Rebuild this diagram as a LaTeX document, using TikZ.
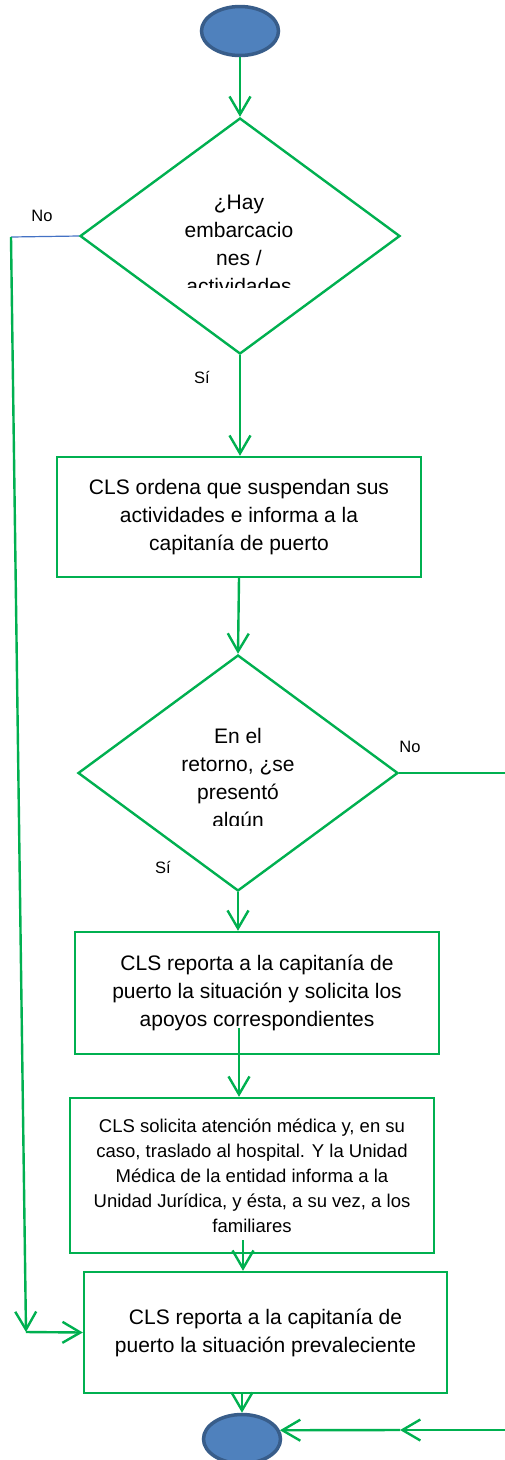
\documentclass[tikz,border=0pt]{standalone}
\usepackage{fontspec}
\setmainfont{Liberation Sans}
\usetikzlibrary{shapes.geometric, arrows.meta}
\definecolor{flowgreen}{HTML}{00B050}
\definecolor{termfill}{HTML}{4F81BD}
\definecolor{termline}{HTML}{385D8A}
\definecolor{noblue}{HTML}{4472C4}

\begin{document}
\begin{tikzpicture}[x=1pt, y=-1pt,
  term/.style = {ellipse, fill=termfill, draw=termline, line width=3.5pt,
                 minimum width=77pt, minimum height=49pt, inner sep=0pt},
  decision/.style = {diamond, draw=flowgreen, line width=2.4pt,
                     minimum width=320pt, minimum height=236pt, inner sep=0pt},
  qtext/.style = {align=center, inner sep=0pt, font=\fontsize{21}{28}\selectfont},
  procbox/.style = {rectangle, draw=flowgreen, line width=2.4pt, align=center,
                    inner sep=0pt, font=\fontsize{21}{28}\selectfont},
  label/.style = {inner sep=0pt, font=\fontsize{16.5}{20}\selectfont},
  flow/.style = {draw=flowgreen, line width=2.4pt},
  arr/.style = {flow, -{Straight Barb[length=18pt, width=21pt]}}]
\useasboundingbox (0,0) rectangle (504,1460);

\node[term] (start) at (240,31) {};
\node[decision] (q1) at (240,236) {};
\begin{scope}
\clip (0,0) rectangle (504,287);
\node[qtext] (q1t) at (239,244) {¿Hay\\embarcacio\\nes /\\actividades};
\end{scope}
\node[procbox, minimum width=364pt, minimum height=120pt] (b1) at (239,517)
  {CLS ordena que suspendan sus\\actividades e informa a la\\capitanía de puerto};
\node[decision] (q2) at (238,773) {};
\begin{scope}
\clip (0,600) rectangle (504,825);
\node[qtext] (q2t) at (238,780) {En el\\retorno, ¿se\\presentó\\algún};
\end{scope}
\node[procbox, minimum width=364pt, minimum height=122pt] (b2) at (257,993)
  {CLS reporta a la capitanía de\\puerto la situación y solicita los\\apoyos correspondientes};
\node[procbox, minimum width=364pt, minimum height=155pt,
      font=\fontsize{18.5}{25}\selectfont] (b4) at (252,1175.5)
  {CLS solicita atención médica y, en su\\caso, traslado al hospital. Y la Unidad\\Médica de la entidad informa a la\\Unidad Jurídica, y ésta, a su vez, a los\\familiares};
\node[procbox, minimum width=363pt, minimum height=121pt] (b6) at (265.5,1332.5)
  {CLS reporta a la capitanía de\\puerto la situación prevaleciente};
\node[term] (end) at (242,1439) {};

\node[label] (no1) at (42,216) {No};
\node[label] (si1) at (202,377) {Sí};
\node[label] (no2) at (410,747) {No};
\node[label] (si2) at (163,867) {Sí};

\coordinate (nw) at (11,237);
\coordinate (sw) at (26,1332);
\coordinate (ne) at (506,770);
\coordinate (b2o) at (239,1028);
\coordinate (b4o) at (243,1240);
\coordinate (se) at (506,1430);
\coordinate (sm) at (400,1430);

\draw[arr] (start) -- (q1);
\draw[arr] (q1.south) -- (q1.south |- b1.north);
\draw[noblue, line width=1.2pt] (q1.west) -- (nw);
\draw[arr] (nw) -- (sw);
\draw[arr] (sw) -- (b6.west);
\draw[arr] (b1.south) -- (q2.north);
\draw[arr] (q2.south) -- (q2.south |- b2.north);
\draw[flow] (q2.east) -- (q2.east -| ne);
\draw[arr] (b2o) -- (b2o |- b4.north);
\draw[arr] (b4o) -- (b4o |- b6.north);
\draw[arr] (b6.south -| end) -- (end.north);
\draw[arr] (se) -- (sm);
\draw[arr] (sm) -- (end.13.5);
\end{tikzpicture}
\end{document}
